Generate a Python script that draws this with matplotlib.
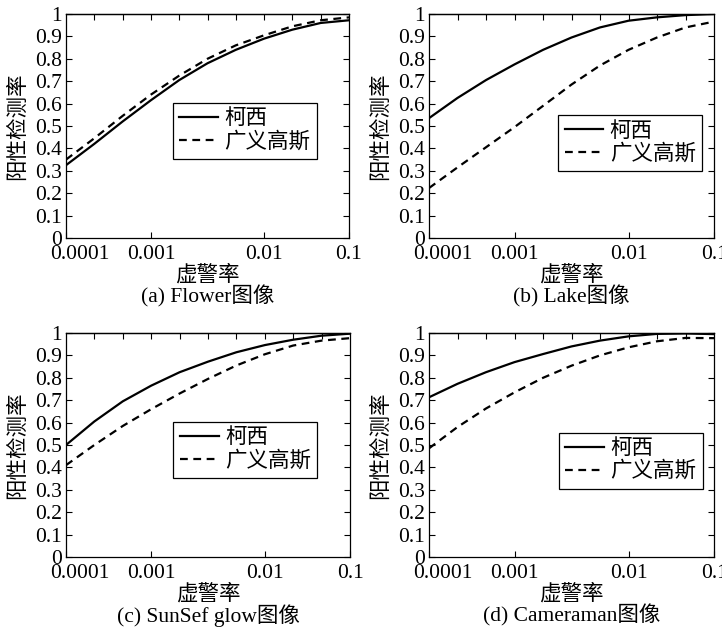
import numpy as np
import matplotlib
matplotlib.use("Agg")
import matplotlib.pyplot as plt
from matplotlib.transforms import ScaledTranslation

plt.rcParams['font.family'] = ['Liberation Serif', 'Noto Sans CJK SC']
plt.rcParams['axes.unicode_minus'] = False

# false alarm rate sample points (read at even spacing of the drawn axis)
far = [1e-4, 2.15e-4, 4.64e-4, 1e-3, 1.78e-3, 3.16e-3, 5.62e-3, 1e-2, 2.15e-2, 4.64e-2, 1e-1]

# detection rate, Cauchy ("柯西") and generalized Gaussian ("广义高斯")
flower_cauchy = [0.325, 0.42, 0.52, 0.615, 0.705, 0.78, 0.84, 0.89, 0.93, 0.96, 0.972]
flower_gg = [0.35, 0.445, 0.545, 0.64, 0.725, 0.80, 0.86, 0.905, 0.945, 0.972, 0.985]
lake_cauchy = [0.535, 0.625, 0.705, 0.775, 0.84, 0.895, 0.94, 0.97, 0.985, 0.995, 1.0]
lake_gg = [0.223, 0.315, 0.405, 0.495, 0.59, 0.685, 0.77, 0.84, 0.895, 0.94, 0.966]
sunset_cauchy = [0.50, 0.605, 0.695, 0.765, 0.825, 0.872, 0.914, 0.946, 0.97, 0.988, 0.997]
sunset_gg = [0.41, 0.50, 0.585, 0.66, 0.73, 0.795, 0.855, 0.905, 0.944, 0.966, 0.977]
camera_cauchy = [0.713, 0.773, 0.825, 0.87, 0.906, 0.94, 0.966, 0.985, 0.996, 0.998, 0.995]
camera_gg = [0.485, 0.58, 0.663, 0.735, 0.80, 0.854, 0.90, 0.936, 0.963, 0.978, 0.977]

panels = [
    (flower_cauchy, flower_gg, "(a) Flower图像"),
    (lake_cauchy, lake_gg, "(b) Lake图像"),
    (sunset_cauchy, sunset_gg, "(c) SunSef glow图像"),
    (camera_cauchy, camera_gg, "(d) Cameraman图像"),
]
series_names = ["柯西", "广义高斯"]
xticks = [1e-4, 1e-3, 1e-2, 1e-1]
xtick_labels = ["0.0001", "0.001", "0.01", "0.1"]
yticks = [0, 0.1, 0.2, 0.3, 0.4, 0.5, 0.6, 0.7, 0.8, 0.9, 1]
ytick_labels = ["0", "0.1", "0.2", "0.3", "0.4", "0.5", "0.6", "0.7", "0.8", "0.9", "1"]

# the original axis is not a true log axis: decades are drawn at 0, 0.3, 0.7, 1.0
dec = [-4, -3, -2, -1]
pos = [0, 0.3, 0.7, 1.0]


def fwd(x):
    x = np.clip(np.asarray(x, dtype=float), 1e-12, None)
    return np.interp(np.log10(x), dec, pos)


def inv(p):
    return 10 ** np.interp(np.asarray(p, dtype=float), pos, dec)


W, H = 722, 627
fig = plt.figure(figsize=(W / 100, H / 100), dpi=100)

boxes = [(66, 14, 349, 238), (429, 14, 714, 238),
         (66, 333, 350, 557), (429, 333, 714, 557)]
legend_pos = [(0.378, 0.603), (0.453, 0.549), (0.378, 0.603), (0.455, 0.554)]

fs = 15.5
for (c, g, cap), (x0, y0, x1, y1), lp in zip(panels, boxes, legend_pos):
    ax = fig.add_axes([x0 / W, 1 - y1 / H, (x1 - x0) / W, (y1 - y0) / H])
    ax.set_xscale('function', functions=(fwd, inv))
    ax.plot(far, c, color='black', lw=1.6, label=series_names[0])
    ax.plot(far, g, color='black', lw=1.6, ls=(0, (3.5, 2.5)), label=series_names[1])
    ax.set_xlim(1e-4, 1e-1)
    ax.set_ylim(0, 1)
    ax.set_xticks(xticks)
    ax.set_xticklabels(xtick_labels)
    ax.minorticks_off()
    ax.set_yticks(yticks)
    ax.set_yticklabels(ytick_labels)
    ax.tick_params(direction='in', length=4, width=0.8, labelsize=15.5, pad=3,
                   right=True, top=False)
    ax.tick_params(axis='x', pad=5)
    # first x label sits a bit to the right in the original
    lab0 = ax.get_xticklabels()[0]
    lab0.set_transform(lab0.get_transform() + ScaledTranslation(0.14, 0, fig.dpi_scale_trans))
    sec = ax.secondary_xaxis('top', functions=(fwd, inv))
    sec.set_xscale('linear')
    sec.set_xticks(np.arange(1, 10) / 10)
    sec.tick_params(direction='in', length=4, width=0.8, labeltop=False)
    for s in list(ax.spines.values()) + list(sec.spines.values()):
        s.set_linewidth(0.9)
    ax.set_xlabel("虚警率", fontsize=fs, labelpad=1)
    ax.set_ylabel("阳性检测率", fontsize=fs, labelpad=5)
    ax.text(0.5, -0.26, cap, transform=ax.transAxes, ha='center', va='center', fontsize=fs)
    leg = ax.legend(loc='upper left', bbox_to_anchor=lp, borderaxespad=0, fontsize=fs,
                    handlelength=1.8, handletextpad=0.3, labelspacing=0.1,
                    borderpad=0.3, fancybox=False, framealpha=1, edgecolor='black')
    leg.get_frame().set_linewidth(0.9)

fig.savefig("out.png", dpi=100)
